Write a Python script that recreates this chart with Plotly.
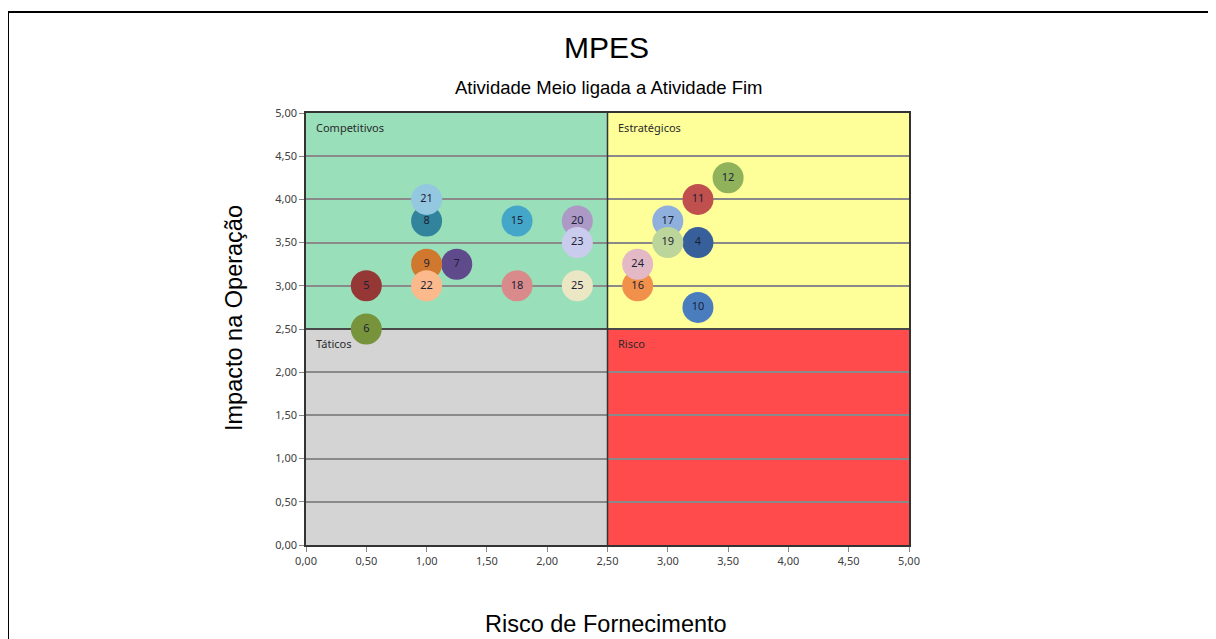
import plotly.graph_objects as go

# ---- data ----
labels = ["4", "5", "6", "7", "8", "9", "10", "11", "12", "15", "16", "17",
          "18", "19", "20", "21", "22", "23", "24", "25"]
risco = [3.25, 0.50, 0.50, 1.25, 1.00, 1.00, 3.25, 3.25, 3.50, 1.75, 2.75, 3.00,
         1.75, 3.00, 2.25, 1.00, 1.00, 2.25, 2.75, 2.25]
impacto = [3.50, 3.00, 2.50, 3.25, 3.75, 3.25, 2.75, 4.00, 4.25, 3.75, 3.00, 3.75,
           3.00, 3.50, 3.75, 4.00, 3.00, 3.50, 3.25, 3.00]
bubble_colors = ["#37609a", "#953735", "#77933c", "#5f4a8b", "#31849b", "#d0782e",
                 "#4a7dbe", "#c0504d", "#8fb25a", "#44a6c9", "#f0904a", "#8fb0dc",
                 "#d98a8a", "#bcd59a", "#ad99c6", "#93c8e0", "#fbb98c", "#c9ccec",
                 "#e3b9c6", "#ebe6c4"]

quadrants = [
    ("Competitivos", 0.0, 2.5, 2.5, 5.0, "#99dfba"),
    ("Estratégicos", 2.5, 5.0, 2.5, 5.0, "#ffff99"),
    ("Táticos", 0.0, 2.5, 0.0, 2.5, "#d4d4d4"),
    ("Risco", 2.5, 5.0, 0.0, 2.5, "#ff4b4b"),
]
x_ticks = [0, 0.5, 1, 1.5, 2, 2.5, 3, 3.5, 4, 4.5, 5]
y_ticks = [0, 0.5, 1, 1.5, 2, 2.5, 3, 3.5, 4, 4.5, 5]

# page has an 8px body margin: work in page pixels, convert to figure pixels
OFF = 8
W, H = 1208, 631
L, T = 306 - OFF, 113 - OFF
pw, ph = 603, 432
R = W - L - pw
B = H - T - ph


def px(xp):
    return (xp - OFF - L) / pw


def py(yp):
    return (T + ph - (yp - OFF)) / ph


fig = go.Figure()

fig.add_trace(go.Scatter(
    x=risco, y=impacto, text=labels, mode="markers+text",
    textposition="middle center",
    textfont=dict(family="Noto Sans", size=11, color="#1c2236"),
    marker=dict(size=31, color=bubble_colors, line=dict(width=0)),
    cliponaxis=False, hoverinfo="skip", showlegend=False,
))

shapes = []
annotations = []
for name, x0, x1, y0, y1, col in quadrants:
    shapes.append(dict(type="rect", xref="x", yref="y", x0=x0, x1=x1, y0=y0, y1=y1,
                       fillcolor=col, line=dict(width=0), layer="below"))
    annotations.append(dict(x=x0, y=y1, xref="x", yref="y", text=name, showarrow=False,
                            xanchor="left", yanchor="top", xshift=8, yshift=-5,
                            font=dict(family="Noto Sans", size=11, color="#2a2a2a")))
# quadrant dividers
shapes.append(dict(type="line", xref="x", yref="y", x0=2.5, x1=2.5, y0=0, y1=5,
                   line=dict(color="#333333", width=1.5), layer="between"))
shapes.append(dict(type="line", xref="x", yref="y", x0=0, x1=5, y0=2.5, y1=2.5,
                   line=dict(color="#333333", width=1.5), layer="between"))
# outer frame (top + left edges visible)
shapes.append(dict(type="line", xref="paper", yref="paper", x0=px(8), x1=px(1240),
                   y0=py(12), y1=py(12), line=dict(color="black", width=2)))
shapes.append(dict(type="line", xref="paper", yref="paper", x0=px(8), x1=px(8),
                   y0=py(12), y1=py(680), line=dict(color="black", width=2)))

annotations += [
    dict(x=px(606), y=py(47), xref="paper", yref="paper", text="MPES", showarrow=False,
         font=dict(family="Liberation Sans", size=30, color="black"),
         xanchor="center", yanchor="middle"),
    dict(x=px(608), y=py(88), xref="paper", yref="paper",
         text="Atividade Meio ligada a Atividade Fim", showarrow=False,
         font=dict(family="Liberation Sans", size=18.5, color="black"),
         xanchor="center", yanchor="middle"),
    dict(x=px(606), y=py(624), xref="paper", yref="paper", text="Risco de Fornecimento",
         showarrow=False, font=dict(family="Liberation Sans", size=23.5, color="black"),
         xanchor="center", yanchor="middle"),
    dict(x=px(234), y=py(318), xref="paper", yref="paper", text="Impacto na Operação",
         showarrow=False, textangle=-90,
         font=dict(family="Liberation Sans", size=23.5, color="black"),
         xanchor="center", yanchor="middle"),
]

fig.update_layout(
    width=W, height=H, margin=dict(l=L, r=R, t=T, b=B, autoexpand=False),
    paper_bgcolor="white", plot_bgcolor="white", separators=",.",
    shapes=shapes, annotations=annotations, showlegend=False,
    xaxis=dict(range=[0, 5], tickvals=x_ticks, tickformat=".2f", showgrid=False,
               zeroline=False, showline=True, linecolor="#333333", linewidth=1.5,
               mirror=True, ticks="outside", ticklen=5, tickcolor="#888888",
               tickfont=dict(family="Noto Sans", size=11, color="#404040")),
    yaxis=dict(range=[0, 5], tickvals=y_ticks, tickformat=".2f", showgrid=True,
               gridcolor="#8a8a8a", gridwidth=1.5, zeroline=False, showline=True,
               linecolor="#333333", linewidth=1.5, mirror=True, ticks="outside",
               ticklen=5, tickcolor="#888888",
               tickfont=dict(family="Noto Sans", size=11, color="#404040")),
)

fig.write_html("out.html")
